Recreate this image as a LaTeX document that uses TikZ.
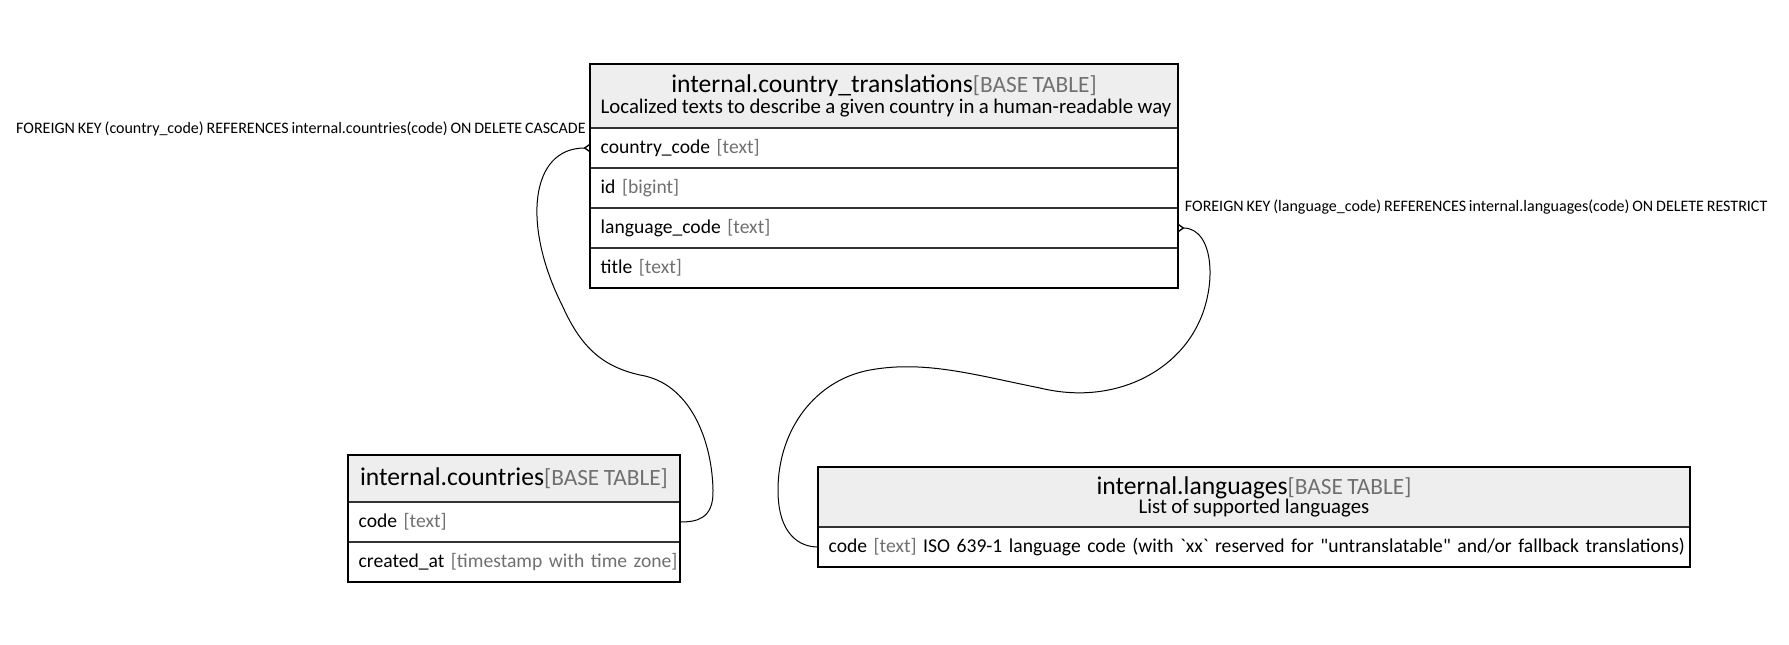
\documentclass[tikz,border=0pt]{standalone}
\usepackage{fontspec}
\setmainfont{Carlito}[Ligatures=TeXOff, WordSpace=0.8]
\usetikzlibrary{arrows.meta, positioning}

\definecolor{headfill}{HTML}{EEEEEE}
\definecolor{typegray}{HTML}{707070}
\definecolor{sepgray}{HTML}{333333}

\newcommand{\tblname}[1]{{\fontsize{19.2}{21}\selectfont #1}{\fontsize{17.5}{21}\selectfont\color{typegray}[BASE TABLE]}}
\newcommand{\tbldesc}[1]{\mbox{\fontsize{15.6}{17}\selectfont #1}}
\newcommand{\coltype}[1]{{\color{typegray}[#1]}}
\newcommand{\col}[2]{\mbox{#1 \coltype{#2}}}

\begin{document}
\begin{tikzpicture}[
    x=0.75pt, y=-0.75pt,
    header/.style={
        rectangle,
        draw=sepgray,
        line width=1pt,
        fill=headfill,
        outer sep=0pt,
        inner xsep=8pt,
        inner ysep=2pt,
        align=center,
        anchor=north west
    },
    row/.style={
        rectangle,
        draw=sepgray,
        line width=1pt,
        fill=white,
        outer sep=0pt,
        inner xsep=8pt,
        minimum height=30pt,
        align=left,
        font=\fontsize{14.7}{16}\selectfont
    },
    frame/.style={draw=black, line width=#1},
    fk/.style={line width=0.75pt, {Straight Barb[reversed, length=3.5pt, width=5pt, line width=1pt]}-},
    fklabel/.style={inner sep=0pt, font=\fontsize{12}{13}\selectfont}
]
\useasboundingbox (0,0) rectangle (1789,644);

\node[header, text width=425pt, minimum height=48pt] (ct) at (590,64) {
    \tblname{internal.country\_translations}\\[0.5pt]
    \tbldesc{Localized texts to describe a given country in a human-readable way}
};
\node[row, text width=425pt, below=0pt of ct] (ct_country) {\col{country\_code}{text}};
\node[row, text width=425pt, below=0pt of ct_country] (ct_id) {\col{id}{bigint}};
\node[row, text width=425pt, below=0pt of ct_id] (ct_lang) {\col{language\_code}{text}};
\node[row, text width=425pt, below=0pt of ct_lang] (ct_title) {\col{title}{text}};
\draw[frame=2.2pt] (ct.north west) rectangle (ct_title.south east);

\node[header, text width=233pt, minimum height=35.25pt] (co) at (348,455) {
    \tblname{internal.countries}
};
\node[row, text width=233pt, below=0pt of co] (co_code) {\col{code}{text}};
\node[row, text width=233pt, below=0pt of co_code] (co_created) {\col{created\_at}{timestamp with time zone}};
\draw[frame=0.9pt] (co.north west) rectangle (co_created.south east);

\node[header, text width=638pt, minimum height=45pt] (lg) at (818,467) {
    \tblname{internal.languages}\\[-0.5pt]
    \tbldesc{List of supported languages}
};
\node[row, text width=638pt, below=0pt of lg] (lg_code) {\mbox{\col{code}{text} ISO 639-1 language code (with `xx` reserved for "untranslatable" and/or fallback translations)}};
\draw[frame=0.9pt] (lg.north west) rectangle (lg_code.south east);

\node[fklabel, above left=9pt and 3pt of ct_country.west] (fk_country) {FOREIGN KEY (country\_code) REFERENCES internal.countries(code) ON DELETE CASCADE};
\node[fklabel, above right=10pt and 5pt of ct_lang.east] (fk_lang) {FOREIGN KEY (language\_code) REFERENCES internal.languages(code) ON DELETE RESTRICT};

\draw[fk] (ct_country.west) .. controls (530,148) and (522,225) .. (562,305)
    .. controls (580,345) and (600,366) .. (640,375)
    .. controls (690,383) and (712,440) .. (713,490)
    .. controls (714,520) and (695,522) .. (co_code.east);
\draw[fk] (ct_lang.east) .. controls (1215,228) and (1218,290) .. (1195,330)
    .. controls (1170,375) and (1110,405) .. (1040,388)
    .. controls (975,375) and (925,360) .. (870,370)
    .. controls (815,380) and (778,430) .. (778,490)
    .. controls (778,535) and (800,547) .. (lg_code.west);

\end{tikzpicture}
\end{document}
